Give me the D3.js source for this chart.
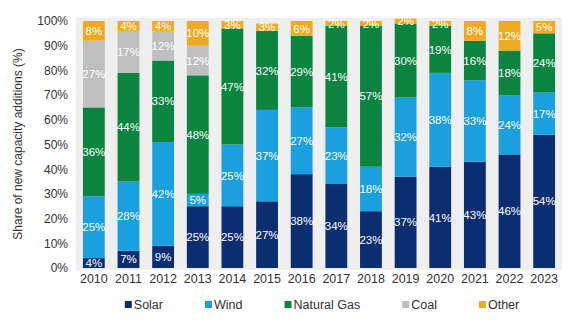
<!DOCTYPE html>
<html>
<head>
<meta charset="utf-8">
<script src="https://cdn.jsdelivr.net/npm/d3@7"></script>
<style>
  body { margin: 0; background: #fff; }
  svg { display: block; font-family: "Liberation Sans", Arial, sans-serif; }
</style>
</head>
<body>
<div id="chart"></div>
<script>
// share of new capacity additions by source, %
var years = ['2010', '2011', '2012', '2013', '2014', '2015', '2016', '2017', '2018', '2019', '2020', '2021', '2022', '2023'];
var solar = [4, 7, 9, 25, 25, 27, 38, 34, 23, 37, 41, 43, 46, 54];
var wind = [25, 28, 42, 5, 25, 37, 27, 23, 18, 32, 38, 33, 24, 17];
var gas = [36, 44, 33, 48, 47, 32, 29, 41, 57, 30, 19, 16, 18, 24];
var coal = [27, 17, 12, 12, 0, 0, 0, 0, 0, 0, 0, 0, 0, 0];
var other = [8, 4, 4, 10, 3, 3, 6, 2, 2, 2, 2, 8, 12, 5];
var seriesNames = ['Solar', 'Wind', 'Natural Gas', 'Coal', 'Other'];
var yTicks = [0, 10, 20, 30, 40, 50, 60, 70, 80, 90, 100];

var colors = ['#0b2d72', '#1aa0df', '#0a843f', '#bfbfbf', '#eeaa22'];

var width = 580, height = 328;
var svg = d3.select('#chart').append('svg').attr('width', width).attr('height', height);

var rows = years.map(function(y, i) {
	return { year: y, Solar: solar[i], Wind: wind[i], 'Natural Gas': gas[i], Coal: coal[i], Other: other[i] };
});
var stacked = d3.stack().keys(seriesNames)(rows);

var x = d3.scaleBand().domain(years).range([76, 562]).paddingInner(0.37).paddingOuter(0.2);
var y = d3.scaleLinear().domain([0, 100]).range([268, 21]);

// plot background
svg.append('rect')
	.attr('x', 76).attr('y', 18)
	.attr('width', 486).attr('height', 252)
	.attr('fill', '#efefef');

var layers = svg.append('g')
	.selectAll('g')
	.data(stacked)
	.enter().append('g')
	.attr('fill', function(d, i) { return colors[i]; });

layers.selectAll('rect')
	.data(function(d) { return d; })
	.enter().append('rect')
	.attr('x', function(d) { return x(d.data.year); })
	.attr('y', function(d) { return y(d[1]); })
	.attr('width', x.bandwidth())
	.attr('height', function(d) { return y(d[0]) - y(d[1]); });

// value labels in the middle of each segment
var labels = svg.append('g');
stacked.forEach(function(s) {
	s.forEach(function(d) {
		var v = d[1] - d[0];
		if (!v) return;
		labels.append('text')
			.attr('x', x(d.data.year) + x.bandwidth() / 2)
			.attr('y', y((d[0] + d[1]) / 2))
			.attr('dy', '0.36em')
			.attr('text-anchor', 'middle')
			.attr('fill', '#fff')
			.style('font-size', '11.5px')
			.text(v + '%');
	});
});

// y axis
var yAxis = svg.append('g')
	.attr('transform', 'translate(68,0)')
	.call(d3.axisLeft(y).tickValues(yTicks).tickSize(0).tickPadding(0).tickFormat(function(d) { return d + '%'; }));
yAxis.select('.domain').remove();
yAxis.selectAll('text').attr('fill', '#333').style('font-size', '12px').style('font-family', 'Liberation Sans, Arial, sans-serif');

svg.append('text')
	.attr('transform', 'translate(22,144) rotate(-90)')
	.attr('text-anchor', 'middle')
	.attr('fill', '#333')
	.style('font-size', '12px')
	.text('Share of new capacity additions (%)');

// x axis
var xAxis = svg.append('g')
	.attr('transform', 'translate(0,274)')
	.call(d3.axisBottom(x).tickSize(0).tickPadding(0));
xAxis.select('.domain').remove();
xAxis.selectAll('text').attr('fill', '#333').attr('dy', '0.71em').style('font-size', '12.5px').style('font-family', 'Liberation Sans, Arial, sans-serif');

// legend
var legend = svg.append('g').attr('transform', 'translate(0,305)');
var items = legend.selectAll('g')
	.data(seriesNames)
	.enter().append('g');
items.append('rect')
	.attr('y', -4).attr('width', 7).attr('height', 7)
	.attr('fill', function(d, i) { return colors[i]; });
items.append('text')
	.attr('x', 9).attr('dy', '0.35em')
	.attr('fill', '#333')
	.style('font-size', '12.5px')
	.text(function(d) { return d; });

var gap = 42, pos = 0, offsets = [];
items.each(function() {
	offsets.push(pos);
	pos += this.getBBox().width + gap;
});
var startX = 322 - (pos - gap) / 2;
items.attr('transform', function(d, i) { return 'translate(' + (startX + offsets[i]) + ',0)'; });
</script>
</body>
</html>
